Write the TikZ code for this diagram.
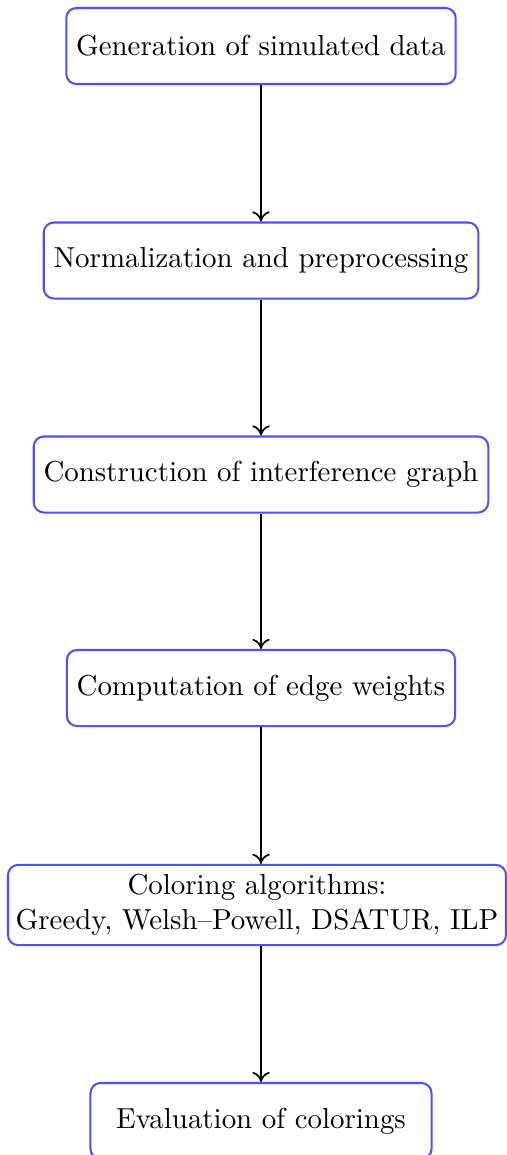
\documentclass[tikz,border=0pt]{standalone}
\usetikzlibrary{arrows.meta}
\definecolor{boxblue}{RGB}{80,80,250}
\begin{document}
\begin{tikzpicture}[x=0.346pt, y=-0.346pt,
  stepbox/.style={draw=boxblue, line width=0.7pt, rounded corners=3.5pt, fill=white,
    inner xsep=3.4pt, inner ysep=3.33pt, minimum height=26.3pt, align=center},
  arr/.style={-{To[length=3.5pt,width=6pt]}, line width=0.6pt, black}]
\clip (0,0) rectangle (507,1155);
\node[stepbox] (b1) at (261,46) {Generation of simulated data};
\node[stepbox] (b2) at (261,260.5) {Normalization and preprocessing};
\node[stepbox] (b3) at (261,474.5) {Construction of interference graph};
\node[stepbox] (b4) at (261,688) {Computation of edge weights};
\node[stepbox, inner xsep=1pt, minimum width=172.3pt] (b5) at (257,905) {Coloring algorithms:\\Greedy, Welsh--Powell, DSATUR, ILP};
\node[stepbox, minimum width=118pt] (b6) at (261,1121) {Evaluation of colorings};
\draw[arr] (b1.south) -- (b2.north);
\draw[arr] (b2.south) -- (b3.north);
\draw[arr] (b3.south) -- (b4.north);
\draw[arr] (b4.south) -- (b4.south |- b5.north);
\draw[arr] (b6.north |- b5.south) -- (b6.north);
\end{tikzpicture}
\end{document}
